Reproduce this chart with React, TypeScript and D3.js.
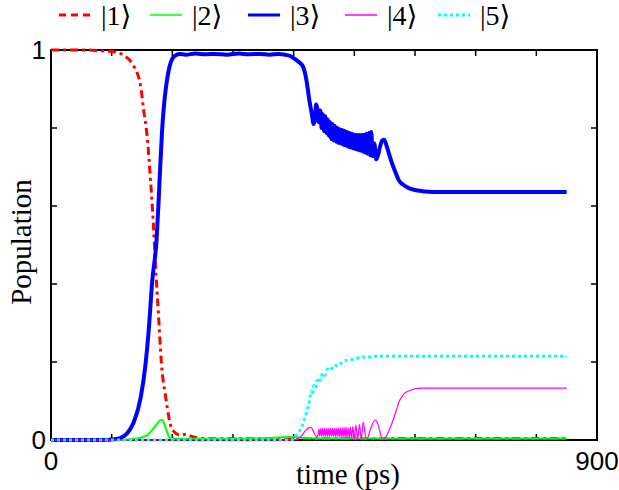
import React from "react";
import * as d3 from "d3";

const W = 619;
const H = 490;
const M = { left: 51, right: 22, top: 50, bottom: 50 };

// ---- data ----
const t1 = [0, 60, 81, 106, 119, 136, 148, 152, 159, 164, 169, 172, 177, 182, 189, 200, 214, 222, 230, 240, 250, 270, 300, 400, 500, 600, 700, 850];
const p1 = [1, 1, 0.998, 0.995, 0.987, 0.96, 0.905, 0.854, 0.77, 0.667, 0.546, 0.454, 0.326, 0.197, 0.11, 0.026, 0.012, 0.015, 0.01, 0.006, 0.004, 0.003, 0.003, 0.003, 0.003, 0.004, 0.004, 0.004];

const t2 = [0, 115, 130, 148, 160, 167, 174, 181, 184, 187, 191, 194, 198, 202, 250, 330, 370, 396, 413, 440, 850];
const p2 = [0, 0, 0.002, 0.006, 0.014, 0.026, 0.04, 0.051, 0.05, 0.04, 0.022, 0.01, 0.005, 0.003, 0.003, 0.004, 0.006, 0.008, 0.006, 0.004, 0.004];

const t3 = [0, 90, 98, 114, 126, 136, 148, 156, 161, 167, 174, 177, 180, 183, 186, 190, 195, 200, 206, 212, 222, 238, 255, 270, 290, 310, 325, 345, 360, 375, 386, 395, 401, 408, 416, 421, 426, 430, 433, 435, 437, 439, 441,
  444, 446, 448, 450, 452, 454, 456, 458, 460, 462, 464, 466, 468, 470, 472, 474, 476, 478, 480, 482, 484, 486, 488, 490, 492, 494, 496, 498, 500, 502, 504, 506, 508, 510, 512, 514, 516, 518, 520, 522, 524, 526, 528, 530,
  533, 536, 539, 542, 546, 549, 552, 556, 562, 567, 573, 580, 590, 600, 612, 630, 850];
const p3 = [0, 0, 0.001, 0.005, 0.018, 0.044, 0.11, 0.197, 0.28, 0.41, 0.513, 0.6, 0.7, 0.79, 0.854, 0.91, 0.955, 0.978, 0.987, 0.99, 0.988, 0.991, 0.989, 0.99, 0.988, 0.991, 0.989, 0.99, 0.988, 0.99, 0.988, 0.984, 0.978, 0.97, 0.955, 0.923, 0.87, 0.835, 0.81, 0.825, 0.86, 0.85, 0.815,
  0.845, 0.80, 0.835, 0.792, 0.83, 0.787, 0.822, 0.78, 0.815, 0.772, 0.81, 0.768, 0.805, 0.765, 0.80, 0.762, 0.797, 0.76, 0.795, 0.757, 0.792, 0.755, 0.79, 0.752, 0.787, 0.75, 0.785, 0.748, 0.783, 0.746, 0.782, 0.744, 0.782, 0.742, 0.782, 0.74, 0.783, 0.737, 0.785, 0.734, 0.787, 0.73, 0.79, 0.728,
  0.76, 0.72, 0.73, 0.75, 0.768, 0.77, 0.76, 0.74, 0.71, 0.69, 0.667, 0.655, 0.646, 0.641, 0.638, 0.636, 0.636];

const t4 = [0, 400, 405, 410, 415, 420, 425, 429, 432, 435, 438, 440,
  441.5, 443.1, 444.7, 446.3, 447.9, 449.5, 451.1, 452.7, 454.3, 455.9, 457.5, 459.1, 460.7, 462.3, 463.9, 465.5, 467.1, 468.7, 470.3, 471.9, 473.5, 475.1, 476.7, 478.3, 479.9, 481.5, 483.1, 484.7, 486.3, 487.9,
  490, 491.8, 493.6, 495.6, 497.6, 500, 502.5, 505.5, 508.5, 511.5, 514.5, 520, 527, 531, 535, 539, 544, 548, 552, 556, 562, 569, 573, 578, 583, 592, 600, 612, 850];
const p4 = [0, 0, 0.002, 0.006, 0.015, 0.025, 0.031, 0.032, 0.024, 0.014, 0.008, 0.012,
  0.028, 0.01, 0.029, 0.009, 0.03, 0.01, 0.029, 0.009, 0.03, 0.01, 0.029, 0.009, 0.03, 0.01, 0.029, 0.009, 0.03, 0.009, 0.03, 0.009, 0.031, 0.008, 0.031, 0.008, 0.032, 0.007, 0.032, 0.007, 0.033, 0.006,
  0.031, 0.004, 0.033, 0.003, 0.035, 0.002, 0.038, 0.001, 0.04, 0.0, 0.045, 0.0, 0.03, 0.045, 0.051, 0.04, 0.01, 0.0, 0.008, 0.02, 0.043, 0.075, 0.095, 0.11, 0.12, 0.127, 0.131, 0.133, 0.133];

const t5 = [0, 396, 404, 413, 421, 426, 429, 431, 433, 436, 441, 444, 448, 451, 456, 460, 467, 473, 480, 491, 500, 512, 522, 534, 850];
const p5 = [0, 0, 0.01, 0.033, 0.07, 0.1, 0.125, 0.115, 0.14, 0.133, 0.16, 0.153, 0.172, 0.166, 0.182, 0.178, 0.192, 0.19, 0.2, 0.205, 0.207, 0.213, 0.212, 0.215, 0.215];

const legendLabels = ["|1⟩", "|2⟩", "|3⟩", "|4⟩", "|5⟩"];
const xTicks = [0, 100, 200, 300, 400, 500, 600, 700, 800, 900];
const yTicks = [0, 0.2, 0.4, 0.6, 0.8, 1];
const xTickLabels = ["0", "900"];
const yTickLabels = ["0", "1"];

const styles = [
  { color: "#ff0000", width: 3, dash: "8,4,3,4" },
  { color: "#00ff00", width: 2, dash: "" },
  { color: "#0000ff", width: 4, dash: "" },
  { color: "#ff00ff", width: 1.2, dash: "" },
  { color: "#00ffff", width: 3, dash: "3,3" },
];
const legendLineX = [59, 150, 248, 345, 438];

export default function App() {
  const x = d3.scaleLinear().domain([0, 900]).range([M.left, W - M.right]);
  const y = d3.scaleLinear().domain([0, 1]).range([H - M.bottom, M.top]);
  const series = [
    [t1, p1],
    [t2, p2],
    [t3, p3],
    [t4, p4],
    [t5, p5],
  ];
  const line = d3
    .line<[number, number]>()
    .x((d) => x(d[0]))
    .y((d) => y(d[1]))
    .curve(d3.curveMonotoneX);

  const x0 = M.left, x1 = W - M.right, y0 = H - M.bottom, y1 = M.top;
  const tl = 6;
  const serif = "'Liberation Serif', 'DejaVu Serif', serif";
  const sans = "'Liberation Sans', Arial, sans-serif";

  return (
    <svg width={W} height={H} style={{ position: "absolute", left: 0, top: 0, background: "#fff" }}>
      {xTicks.map((v, i) => (
        <g key={"xt" + i} stroke="#000" strokeWidth={1.5}>
          <line x1={x(v)} x2={x(v)} y1={y0} y2={y0 - tl} />
          <line x1={x(v)} x2={x(v)} y1={y1} y2={y1 + tl} />
        </g>
      ))}
      {yTicks.map((v, i) => (
        <g key={"yt" + i} stroke="#000" strokeWidth={1.5}>
          <line x1={x0} x2={x0 + tl} y1={y(v)} y2={y(v)} />
          <line x1={x1} x2={x1 - tl} y1={y(v)} y2={y(v)} />
        </g>
      ))}
      <rect x={x0} y={y1} width={x1 - x0} height={y0 - y1} fill="none" stroke="#000" strokeWidth={2} />
      {series.map((s, i) => {
        const pts = s[0].map((t, j) => [t, s[1][j]] as [number, number]);
        return (
          <path
            key={"s" + i}
            d={line(pts) || ""}
            fill="none"
            stroke={styles[i].color}
            strokeWidth={styles[i].width}
            strokeDasharray={styles[i].dash || undefined}
          />
        );
      })}
      <text x={x(0)} y={y0 + 30} textAnchor="middle" fontFamily={sans} fontSize={26}>{xTickLabels[0]}</text>
      <text x={x(900)} y={y0 + 30} textAnchor="middle" fontFamily={sans} fontSize={26}>{xTickLabels[1]}</text>
      <text x={x0 - 5} y={y(0) + 9} textAnchor="end" fontFamily={sans} fontSize={26}>{yTickLabels[0]}</text>
      <text x={x0 - 5} y={y(1) + 9} textAnchor="end" fontFamily={sans} fontSize={26}>{yTickLabels[1]}</text>
      <text x={348} y={484} textAnchor="middle" fontFamily={serif} fontSize={29}>time (ps)</text>
      <text transform={`translate(31,242) rotate(-90)`} textAnchor="middle" fontFamily={serif} fontSize={29}>Population</text>
      {legendLabels.map((lab, i) => (
        <g key={"lg" + i}>
          <line x1={legendLineX[i]} x2={legendLineX[i] + 32} y1={15} y2={15} stroke={styles[i].color} strokeWidth={i === 1 || i === 3 ? 1.5 : 3} strokeDasharray={i === 0 ? "7,5" : i === 4 ? "3,3" : undefined} />
          <text x={legendLineX[i] + 42} y={25} fontFamily={serif} fontSize={28}>{lab}</text>
        </g>
      ))}
    </svg>
  );
}
